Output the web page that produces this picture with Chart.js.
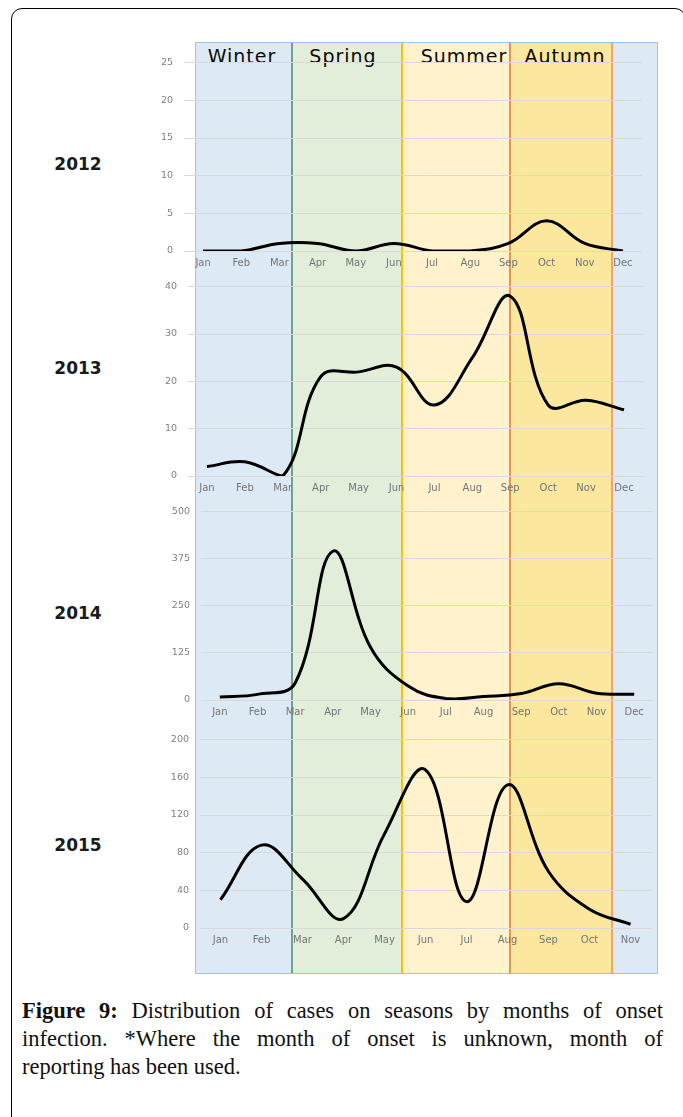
<!DOCTYPE html>
<html>
<head>
<meta charset="utf-8">
<script src="https://cdn.jsdelivr.net/npm/chart.js@4.4.0/dist/chart.umd.min.js"></script>
<style>
body { margin: 0; background: #fff; }
#page { position: relative; width: 683px; height: 1117px; overflow: hidden; background: #fff; font-family: "DejaVu Sans", sans-serif; }
#frame { position: absolute; left: 11px; top: 8px; width: 675px; height: 1200px; border: 1.5px solid #000; border-radius: 11px; box-sizing: border-box; }
.band { position: absolute; top: 42px; height: 932px; box-sizing: border-box; }
#outline { position: absolute; left: 195px; top: 42px; width: 463px; height: 932px; border: 1.5px solid #9dc3e6; box-sizing: border-box; z-index: 2; }
.season { position: absolute; top: 45px; font-size: 19px; line-height: 22px; letter-spacing: 1px; color: #0a0a0a; transform: translateX(-50%); z-index: 3; white-space: nowrap; }
.year { position: absolute; left: 78px; font-size: 17px; font-weight: bold; line-height: 18px; color: #1a1a1a; transform: translateX(-50%); }
canvas { position: absolute; z-index: 4; }
#caption { position: absolute; left: 22px; top: 997px; width: 641px; font-family: "Liberation Serif", serif; font-size: 22.5px; line-height: 28px; color: #111; }
.jl { text-align: justify; text-align-last: justify; }
</style>
</head>
<body>
<div id="page">
  <div id="frame"></div>

  <div class="band" style="left:195px;width:96px;background:#ddeaf6;"></div>
  <div class="band" style="left:291px;width:110px;background:#e2eeda;border-left:2px solid #6ea393;"></div>
  <div class="band" style="left:401px;width:108px;background:#fff2cc;border-left:2px solid #ffc000;"></div>
  <div class="band" style="left:509px;width:102px;background:#fce79f;border-left:2px solid #dd975a;"></div>
  <div class="band" style="left:611px;width:47px;background:#ddeaf6;border-left:2px solid #f3a462;"></div>
  <div id="outline"></div>

  <div class="season" style="left:242px;">Winter</div>
  <div class="season" style="left:343px;">Spring</div>
  <div class="season" style="left:464px;">Summer</div>
  <div class="season" style="left:565px;">Autumn</div>

  <div class="year" style="top:155px;">2012</div>
  <div class="year" style="top:359px;">2013</div>
  <div class="year" style="top:604px;">2014</div>
  <div class="year" style="top:836px;">2015</div>

  <canvas id="c2012"></canvas>
  <canvas id="c2013"></canvas>
  <canvas id="c2014"></canvas>
  <canvas id="c2015"></canvas>

  <div id="caption">
    <div class="jl"><b>Figure 9:</b> Distribution of cases on seasons by months of onset</div>
    <div class="jl">infection. *Where the month of onset is unknown, month of</div>
    <div>reporting has been used.</div>
  </div>
</div>

<script>
// month labels as printed under each panel
var months2012 = ['Jan','Feb','Mar','Apr','May','Jun','Jul','Agu','Sep','Oct','Nov','Dec'];
var months2013 = ['Jan','Feb','Mar','Apr','May','Jun','Jul','Aug','Sep','Oct','Nov','Dec'];
var months2014 = ['Jan','Feb','Mar','Apr','May','Jun','Jul','Aug','Sep','Oct','Nov','Dec'];
var months2015 = ['Jan','Feb','Mar','Apr','May','Jun','Jul','Aug','Sep','Oct','Nov'];

// cases per month
var cases2012 = [0, 0, 1, 1, 0, 1, 0, 0, 1, 4, 1, 0];
var cases2013 = [2, 3, 0, 21, 22, 23, 15, 25, 38, 15, 16, 14];
var cases2014 = [8, 15, 45, 395, 140, 37, 4, 9, 17, 43, 18, 15];
var cases2015 = [30, 88, 52, 10, 100, 168, 28, 152, 60, 20, 4];

// y axis ticks
var ticks2012 = [0, 5, 10, 15, 20, 25];
var ticks2013 = [0, 10, 20, 30, 40];
var ticks2014 = [0, 125, 250, 375, 500];
var ticks2015 = [0, 40, 80, 120, 160, 200];

var canvasLeft = 140;
var xAxisH = 24;

function makeConfig(labels, values, ticks, box) {
    return {
        type: 'line',
        data: {
            labels: labels,
            datasets: [{
                data: values,
                borderColor: '#000',
                borderWidth: 3,
                tension: 0.4,
                pointRadius: 0,
                fill: false
            }]
        },
        options: {
            responsive: false,
            animation: false,
            devicePixelRatio: 1,
            layout: { padding: 0 },
            plugins: { legend: { display: false }, tooltip: { enabled: false } },
            scales: {
                x: {
                    offset: true,
                    grid: { display: false, drawTicks: false },
                    border: { display: false },
                    ticks: { color: '#747474', font: { family: 'DejaVu Sans', size: 10 }, padding: 6, autoSkip: false, maxRotation: 0 },
                    afterFit: function(s) { s.height = xAxisH; }
                },
                y: {
                    min: ticks[0],
                    max: ticks[ticks.length - 1],
                    grid: { color: '#d9d9d9', lineWidth: 1, drawTicks: false },
                    border: { display: false },
                    ticks: { stepSize: ticks[1] - ticks[0], color: '#808080', font: { family: 'DejaVu Sans', size: 9.5 }, padding: 11 },
                    afterFit: function(s) { s.width = box.left - canvasLeft; }
                }
            }
        }
    };
}

// box = plot area of the panel on the page
function drawYear(id, labels, values, ticks, box) {
    var cv = document.getElementById(id);
    var plotH = box.bottom - box.top;
    cv.width = box.right - canvasLeft;
    cv.height = plotH + 40 + xAxisH;
    cv.style.left = canvasLeft + 'px';

    // first pass: find how much room chart.js keeps above the top tick
    var probe = new Chart(cv, makeConfig(labels, values, ticks, box));
    var topGap = probe.chartArea.top;
    probe.destroy();

    cv.width = box.right - canvasLeft;
    cv.height = Math.round(topGap + plotH + xAxisH);
    cv.style.top = Math.round(box.top - topGap) + 'px';
    return new Chart(cv, makeConfig(labels, values, ticks, box));
}

drawYear('c2012', months2012, cases2012, ticks2012, { left: 184, right: 642, top: 63, bottom: 251 });
drawYear('c2013', months2013, cases2013, ticks2013, { left: 188, right: 643, top: 287, bottom: 476 });
drawYear('c2014', months2014, cases2014, ticks2014, { left: 201, right: 653, top: 512, bottom: 700 });
drawYear('c2015', months2015, cases2015, ticks2015, { left: 200, right: 651, top: 740, bottom: 928 });
</script>
</body>
</html>
